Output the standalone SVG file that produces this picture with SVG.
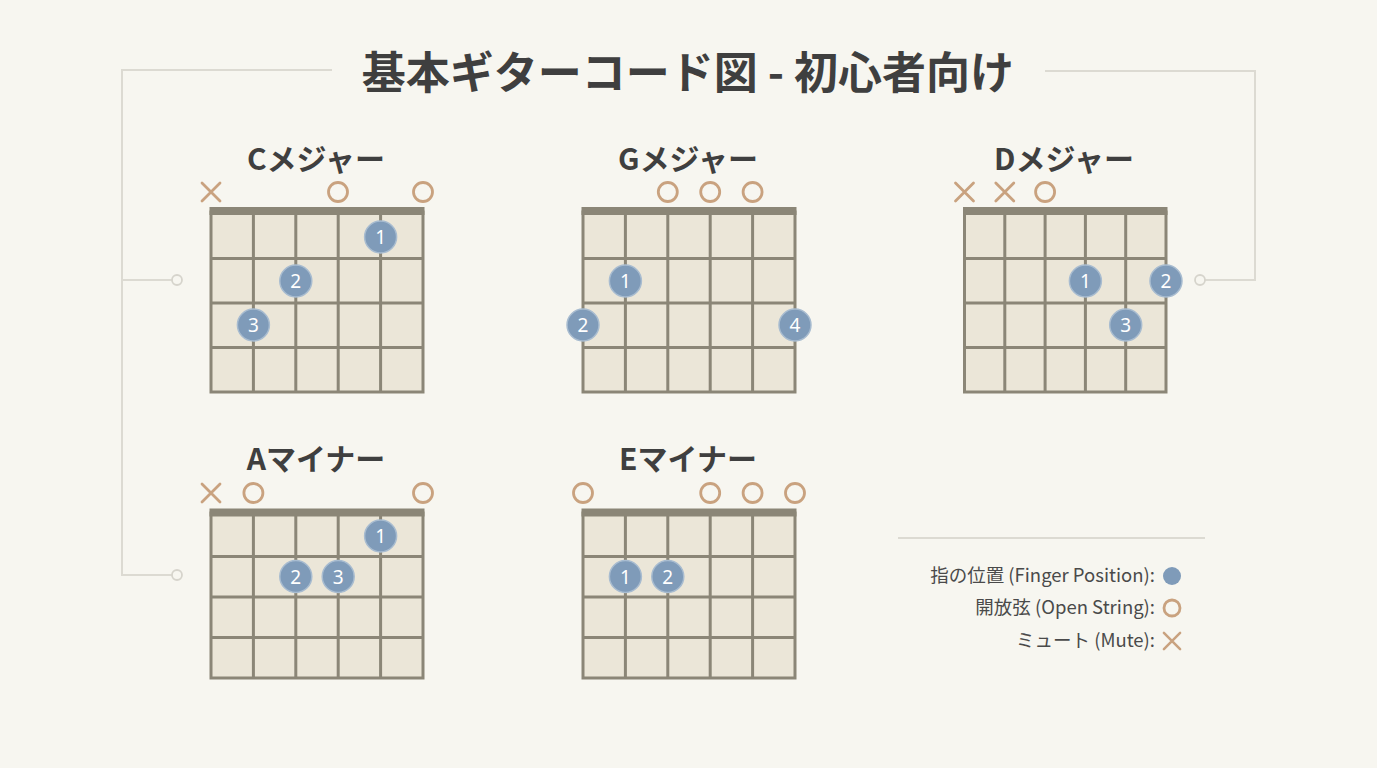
<svg xmlns="http://www.w3.org/2000/svg" width="1377" height="768" viewBox="0 0 1377 768">
<defs>
<style>
.bg{fill:#f7f6f0}
.title{font-family:"Noto Sans CJK JP","Noto Sans",sans-serif;font-weight:700;font-size:44px;fill:#3f3f3f}
.ct{font-family:"Noto Sans CJK JP","Noto Sans",sans-serif;font-weight:700;font-size:30px;fill:#3f3f3f}
.grid{fill:#ebe6d8;stroke:#8b8677;stroke-width:3}
.gl{stroke:#8b8677;stroke-width:3;fill:none}
.nut{fill:#8b8677}
.dot{fill:#7f9bb9;stroke:#a8bcd0;stroke-width:1.5}
.num{font-family:"Noto Sans","Liberation Sans",sans-serif;font-size:19px;fill:#ffffff;text-anchor:middle;dominant-baseline:central}
.open{fill:none;stroke:#c9a27f;stroke-width:2.8}
.mute{stroke:#c9a27f;stroke-width:2.8;stroke-linecap:round}
.conn{stroke:#dcdad2;stroke-width:2;fill:none}
.conn-end{fill:#f7f6f0;stroke:#d6d4cc;stroke-width:1.8}
.leg{font-family:"Noto Sans CJK JP","Noto Sans",sans-serif;font-size:18.5px;fill:#4a4a4a;text-anchor:end}
</style>
<symbol id="x" viewBox="-10 -10 20 20" overflow="visible"><path class="mute" d="M-9,-9L9,9M9,-9L-9,9"/></symbol>
</defs>
<rect class="bg" x="0" y="0" width="1377" height="768"/>

<g id="connectors">
<path class="conn" d="M332,70H122V575H172"/>
<path class="conn" d="M122,280H172"/>
<circle class="conn-end" cx="177" cy="280" r="5"/>
<circle class="conn-end" cx="177" cy="575" r="5"/>
<path class="conn" d="M1045,71H1255V280H1205"/>
<circle class="conn-end" cx="1200" cy="280" r="5"/>
<path class="conn" d="M898,538H1205"/>
</g>

<g id="title"><text class="title" x="688" y="89" text-anchor="middle">基本ギターコード図 - 初心者向け</text></g>

<g id="chord-c">
<text class="ct" x="316" y="170" text-anchor="middle">Cメジャー</text>
<use href="#x" x="201" y="182" width="20" height="20"/>
<circle class="open" cx="338" cy="192" r="9.5"/>
<circle class="open" cx="423" cy="192" r="9.5"/>
<rect class="grid" x="211" y="212" width="212" height="180"/>
<path class="gl" d="M253.4,214V392M295.8,214V392M338.2,214V392M380.6,214V392M211,258.5H423M211,303H423M211,347.5H423"/>
<rect class="nut" x="209.5" y="207" width="215" height="8"/>
<circle class="dot" cx="380.6" cy="237" r="16"/><text class="num" x="380.6" y="237">1</text>
<circle class="dot" cx="295.8" cy="281" r="16"/><text class="num" x="295.8" y="281">2</text>
<circle class="dot" cx="253.4" cy="325" r="16"/><text class="num" x="253.4" y="325">3</text>
</g>

<g id="chord-g">
<text class="ct" x="688" y="170" text-anchor="middle">Gメジャー</text>
<circle class="open" cx="667.8" cy="192" r="9.5"/>
<circle class="open" cx="710.2" cy="192" r="9.5"/>
<circle class="open" cx="752.6" cy="192" r="9.5"/>
<rect class="grid" x="583" y="212" width="212" height="180"/>
<path class="gl" d="M625.4,214V392M667.8,214V392M710.2,214V392M752.6,214V392M583,258.5H795M583,303H795M583,347.5H795"/>
<rect class="nut" x="581.5" y="207" width="215" height="8"/>
<circle class="dot" cx="625.4" cy="281" r="16"/><text class="num" x="625.4" y="281">1</text>
<circle class="dot" cx="583" cy="325" r="16"/><text class="num" x="583" y="325">2</text>
<circle class="dot" cx="795" cy="325" r="16"/><text class="num" x="795" y="325">4</text>
</g>

<g id="chord-d">
<text class="ct" x="1064" y="170" text-anchor="middle">Dメジャー</text>
<use href="#x" x="954.5" y="182" width="20" height="20"/>
<use href="#x" x="994.8" y="182" width="20" height="20"/>
<circle class="open" cx="1045.1" cy="192" r="9.5"/>
<rect class="grid" x="964.5" y="212" width="201.5" height="180"/>
<path class="gl" d="M1004.8,214V392M1045.1,214V392M1085.4,214V392M1125.7,214V392M964.5,258.5H1166M964.5,303H1166M964.5,347.5H1166"/>
<rect class="nut" x="963" y="207" width="204.5" height="8"/>
<circle class="dot" cx="1085.4" cy="281" r="16"/><text class="num" x="1085.4" y="281">1</text>
<circle class="dot" cx="1166" cy="281" r="16"/><text class="num" x="1166" y="281">2</text>
<circle class="dot" cx="1125.7" cy="325" r="16"/><text class="num" x="1125.7" y="325">3</text>
</g>

<g id="chord-am">
<text class="ct" x="316" y="470" text-anchor="middle">Aマイナー</text>
<use href="#x" x="201" y="483" width="20" height="20"/>
<circle class="open" cx="253.4" cy="493" r="9.5"/>
<circle class="open" cx="423" cy="493" r="9.5"/>
<rect class="grid" x="211" y="513" width="212" height="165"/>
<path class="gl" d="M253.4,516V678M295.8,516V678M338.2,516V678M380.6,516V678M211,556.5H423M211,597H423M211,637.5H423"/>
<rect class="nut" x="209.5" y="508.5" width="215" height="8"/>
<circle class="dot" cx="380.6" cy="536" r="16"/><text class="num" x="380.6" y="536">1</text>
<circle class="dot" cx="295.8" cy="576.5" r="16"/><text class="num" x="295.8" y="576.5">2</text>
<circle class="dot" cx="338.2" cy="576.5" r="16"/><text class="num" x="338.2" y="576.5">3</text>
</g>

<g id="chord-em">
<text class="ct" x="688" y="470" text-anchor="middle">Eマイナー</text>
<circle class="open" cx="583" cy="493" r="9.5"/>
<circle class="open" cx="710.2" cy="493" r="9.5"/>
<circle class="open" cx="752.6" cy="493" r="9.5"/>
<circle class="open" cx="795" cy="493" r="9.5"/>
<rect class="grid" x="583" y="513" width="212" height="165"/>
<path class="gl" d="M625.4,516V678M667.8,516V678M710.2,516V678M752.6,516V678M583,556.5H795M583,597H795M583,637.5H795"/>
<rect class="nut" x="581.5" y="508.5" width="215" height="8"/>
<circle class="dot" cx="625.4" cy="576.5" r="16"/><text class="num" x="625.4" y="576.5">1</text>
<circle class="dot" cx="667.8" cy="576.5" r="16"/><text class="num" x="667.8" y="576.5">2</text>
</g>

<g id="legend">
<text class="leg" x="1155" y="582">指の位置 (Finger Position):</text>
<circle cx="1172" cy="576" r="9" fill="#7f9bb9"/>
<text class="leg" x="1155" y="614">開放弦 (Open String):</text>
<circle class="open" cx="1172" cy="608" r="8" stroke-width="2.5"/>
<text class="leg" x="1155" y="647">ミュート (Mute):</text>
<use href="#x" x="1163" y="632" width="18" height="18"/>
</g>
</svg>
